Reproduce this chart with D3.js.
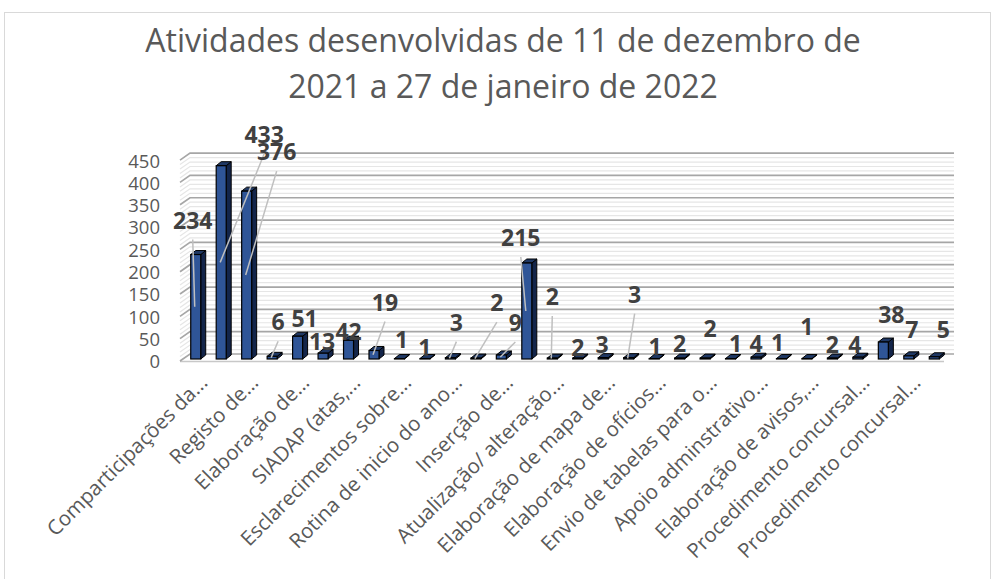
<!DOCTYPE html>
<html><head><meta charset="utf-8">
<script src="https://cdn.jsdelivr.net/npm/d3@7"></script>
<style>body{margin:0;background:#fff}svg{display:block}</style>
</head><body><svg id="c" width="994" height="579"></svg>
<script>
// ---------- data ----------
const titleLines = ["Atividades desenvolvidas de 11 de dezembro de", "2021 a 27 de janeiro de 2022"];
const values = [234, 433, 376, 6, 51, 13, 42, 19, 1, 1, 3, 2, 9, 215, 2, 2, 3, 3, 1, 2, 2, 1, 4, 1, 1, 2, 4, 38, 7, 5];
const tickLabels = ["Comparticipações da...", "Registo de...", "Elaboração de...", "SIADAP (atas,...",
  "Esclarecimentos sobre...", "Rotina de inicio do ano...", "Inserção de...", "Atualização/ alteração...",
  "Elaboração de mapa de...", "Elaboração de ofícios...", "Envio de tabelas para o...", "Apoio adminstrativo...",
  "Elaboração de avisos,...", "Procedimento concursal...", "Procedimento concursal..."];
const yTicks = [0, 50, 100, 150, 200, 250, 300, 350, 400, 450];
const yMinor = d3.range(0, 451, 10);

// ---------- layout (data-label placement, not data) ----------
const labelDx = [-3, 43, 30, 6, 7, -1, 0, 11, 2, 0, 6, 21, 14, -6, 0, 0, -1, 6, 1, 0, 5, 5, 0, -4, 0, 0, -3, 8, 3, 9];
const labelDy = [-18, -15, -23, -18, -1, 5, 8, -32, -3, 5, -19, -39, -16, -9, -45, 6, 3, -47, 4, 2, -13, 1, 3, 0, -16, 3, 4, -11, -10, -11];
const leader  = [1, 1, 1, 1, 0, 0, 0, 1, 0, 0, 1, 1, 1, 1, 1, 0, 0, 1, 0, 0, 0, 0, 0, 0, 0, 0, 0, 0, 0, 0];

const svg = d3.select("#c");
const FONT = "'Open Sans', sans-serif";
const grey = "#595959";

// chart border
svg.append("rect").attr("x", 4.5).attr("y", 12.5).attr("width", 986).attr("height", 575)
  .attr("fill", "#fff").attr("stroke", "#d9d9d9").attr("stroke-width", 1);

// title
svg.selectAll("text.title").data(titleLines).join("text")
  .attr("class", "title")
  .attr("x", 503).attr("y", (d, i) => 52 + i * 46)
  .attr("text-anchor", "middle")
  .attr("font-family", FONT).attr("font-size", 32).attr("fill", grey)
  .text(d => d);

// scales
const x = d3.scaleBand().domain(d3.range(values.length)).range([180, 944]);
const y = d3.scaleLinear().domain([0, 450]).range([361, 160.1]);
const DX = 10, DY = -7;          // wall depth
const BX = 3, BY = -2;           // bar front offset inside the depth
const BW = 10, BDX = 5, BDY = -4; // bar face width, bar depth

const x0 = x.range()[0], x1 = x.range()[1];

// floor
svg.append("path")
  .attr("d", `M${x0},${y(0)} L${x1},${y(0)} L${x1 + DX},${y(0) + DY} L${x0 + DX},${y(0) + DY} Z`)
  .attr("fill", "#fff").attr("stroke", "none");
svg.append("line").attr("x1", x0).attr("x2", x1).attr("y1", y(0) + 0.5).attr("y2", y(0) + 0.5)
  .attr("stroke", "#c8c8c8").attr("stroke-width", 1.5);

// minor gridlines (back wall + side wall)
const g = svg.append("g");
yMinor.filter(v => v % 50 !== 0).forEach(v => {
  g.append("path")
    .attr("d", `M${x0},${y(v)} L${x0 + DX},${y(v) + DY} L${x1 + DX},${y(v) + DY}`)
    .attr("fill", "none").attr("stroke", "#e6e6e6").attr("stroke-width", 1.2);
});
yTicks.forEach(v => {
  g.append("path")
    .attr("d", `M${x0},${y(v)} L${x0 + DX},${y(v) + DY} L${x1 + DX},${y(v) + DY}`)
    .attr("fill", "none").attr("stroke", "#a6a6a6").attr("stroke-width", 1.7);
});

// y axis labels
const yAxis = svg.append("g").attr("transform", `translate(160,1)`)
  .call(d3.axisLeft(y).tickValues(yTicks).tickSize(0).tickPadding(0));
yAxis.select(".domain").remove();
yAxis.selectAll("text").attr("font-family", FONT).attr("font-size", 18.5).attr("fill", grey);

// bars
const cx = i => x(i) + x.bandwidth() / 2 + BX;
const base = y(0) + BY;
const barTop = v => y(v) + BY;
const bars = svg.append("g");
values.forEach((v, i) => {
  const l = cx(i) - BW / 2, r = cx(i) + BW / 2, t = barTop(v), b = base;
  bars.append("path").attr("d", `M${r},${t} L${r + BDX},${t + BDY} L${r + BDX},${b + BDY} L${r},${b} Z`)
    .attr("fill", "#13254a").attr("stroke", "#000").attr("stroke-width", 1).attr("stroke-linejoin", "round");
  bars.append("path").attr("d", `M${l},${t} L${l + BDX},${t + BDY} L${r + BDX},${t + BDY} L${r},${t} Z`)
    .attr("fill", "#1f3864").attr("stroke", "#000").attr("stroke-width", 1).attr("stroke-linejoin", "round");
  bars.append("rect").attr("x", l).attr("y", t).attr("width", BW).attr("height", Math.max(0, b - t))
    .attr("fill", "#2f5597").attr("stroke", "#000").attr("stroke-width", 1.2);
});

// leader lines + data labels
const lab = svg.append("g");
values.forEach((v, i) => {
  const lx = cx(i) + labelDx[i];
  const ly = barTop(v) - 8 + labelDy[i];
  if (leader[i]) {
    lab.append("line")
      .attr("x1", lx).attr("y1", ly + 11)
      .attr("x2", cx(i) - 1).attr("y2", (barTop(v) + base) / 2)
      .attr("stroke", "#bfbfbf").attr("stroke-width", 1.5);
  }
});
values.forEach((v, i) => {
  lab.append("text")
    .attr("x", cx(i) + labelDx[i]).attr("y", barTop(v) - 8 + labelDy[i])
    .attr("text-anchor", "middle")
    .attr("font-family", FONT).attr("font-weight", 700).attr("font-size", 23).attr("fill", "#404040")
    .text(v);
});

// x axis labels (every second category)
const xAxis = svg.append("g").attr("transform", `translate(0,384)`)
  .call(d3.axisBottom(x).tickValues(d3.range(0, values.length, 2)).tickSize(0)
    .tickFormat(i => tickLabels[i / 2]));
xAxis.select(".domain").remove();
xAxis.selectAll("text")
  .attr("font-family", FONT).attr("font-size", 20.5).attr("fill", grey)
  .attr("text-anchor", "end").attr("dy", 0).attr("y", 0)
  .attr("transform", `translate(${BX + 13},0) rotate(-45)`);
</script>
</body></html>
